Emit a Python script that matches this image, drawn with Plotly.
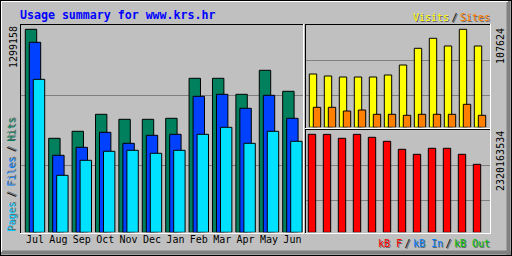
import plotly.graph_objects as go

W, H = 512, 256

months = ["Jul", "Aug", "Sep", "Oct", "Nov", "Dec", "Jan", "Feb", "Mar", "Apr", "May", "Jun"]
hits = [1299158, 601600, 646400, 755200, 723200, 723200, 729600, 985600, 985600, 883200, 1036800, 902400]
files = [1216000, 492800, 544000, 640000, 569600, 620800, 627200, 870400, 883200, 793600, 876800, 729600]
pages = [979000, 364800, 460800, 518400, 524800, 505600, 524800, 627200, 672000, 569600, 646400, 582400]
visits = [58530, 56340, 55240, 55240, 55240, 57440, 68420, 86760, 97740, 89290, 107624, 89290]
sites = [21960, 21960, 17900, 19000, 14280, 14280, 13180, 14280, 14280, 14280, 25260, 13180]
kbytes = [2320163534, 2318500000, 2225463000, 2319000000, 2249138000, 2154438000,
          1965036000, 1846660000, 1988711000, 1988711000, 1846660000, 1609909000]

title_text = "Usage summary for www.krs.hr"

C_HITS, C_FILES, C_PAGES = "#00805C", "#0040FF", "#00E0FF"
C_VISITS, C_SITES, C_KB = "#FFFF00", "#FF8000", "#FF0000"
BG = "#C0C0C0"
GRID = "#808080"
MONO = "DejaVu Sans Mono"
SHADOW = "1px 1px 0px #666666"


def px(p):
    return p / W


def py(p):
    return 1 - p / H


xi = list(range(len(months)))
hmax = max(hits)
vmax = max(visits)
kmax = max(kbytes)

# left panel: base pixel 232.3, max bar 203 px tall, top of panel 25
L_BASE, L_TOP, L_SCALE = 232.3, 25.0, 203.0
R1 = hmax * (L_BASE - L_TOP) / L_SCALE
# upper right
U_BASE, U_TOP, U_SCALE = 127.3, 25.0, 98.0
R2 = vmax * (U_BASE - U_TOP) / U_SCALE
# lower right
D_BASE, D_TOP, D_SCALE = 232.3, 130.0, 98.0
R3 = kmax * (D_BASE - D_TOP) / D_SCALE

bw_l = 11.4 / 23.4
bw_r = 7.4 / 15.0

fig = go.Figure()
line = dict(color="black", width=1)
fig.add_trace(go.Bar(x=xi, y=hits, offset=-0.415, width=bw_l, marker=dict(color=C_HITS, line=line), xaxis="x", yaxis="y"))
fig.add_trace(go.Bar(x=xi, y=files, offset=-0.244, width=bw_l, marker=dict(color=C_FILES, line=line), xaxis="x", yaxis="y"))
fig.add_trace(go.Bar(x=xi, y=pages, offset=-0.073, width=bw_l, marker=dict(color=C_PAGES, line=line), xaxis="x", yaxis="y"))
fig.add_trace(go.Bar(x=xi, y=visits, offset=-0.38, width=bw_r, marker=dict(color=C_VISITS, line=line), xaxis="x2", yaxis="y2"))
fig.add_trace(go.Bar(x=xi, y=sites, offset=-0.113, width=bw_r, marker=dict(color=C_SITES, line=line), xaxis="x2", yaxis="y2"))
fig.add_trace(go.Bar(x=xi, y=kbytes, offset=-0.447, width=bw_r, marker=dict(color=C_KB, line=line), xaxis="x3", yaxis="y3"))


def grid_vals(base, top, rng, pix):
    return [rng * (base - p) / (base - top) for p in pix]


axis_common = dict(showline=False, zeroline=False, fixedrange=True)
fig.update_layout(
    width=W, height=H, margin=dict(l=0, r=0, t=0, b=0),
    paper_bgcolor=BG, plot_bgcolor=BG, showlegend=False, barmode="overlay",
    xaxis=dict(domain=[px(21), px(304)], range=[(21 - 35) / 23.4, (304 - 35) / 23.4],
               tickvals=xi, ticktext=months, ticks="", showgrid=False,
               tickfont=dict(family=MONO, size=10, color="black"), anchor="y", **axis_common),
    yaxis=dict(domain=[py(L_BASE), py(L_TOP)], range=[0, R1], showticklabels=False, ticks="",
               tickvals=grid_vals(L_BASE, L_TOP, R1, [165, 95]), showgrid=True, gridcolor=GRID,
               gridwidth=1, anchor="x", **axis_common),
    xaxis2=dict(domain=[px(306), px(490)], range=[(306 - 315) / 15, (490 - 315) / 15],
                showticklabels=False, ticks="", showgrid=False, anchor="y2", **axis_common),
    yaxis2=dict(domain=[py(U_BASE), py(U_TOP)], range=[0, R2], showticklabels=False, ticks="",
                tickvals=grid_vals(U_BASE, U_TOP, R2, [95.3, 60]), showgrid=True, gridcolor=GRID,
                anchor="x2", **axis_common),
    xaxis3=dict(domain=[px(306), px(490)], range=[(306 - 315) / 15, (490 - 315) / 15],
                showticklabels=False, ticks="", showgrid=False, anchor="y3", **axis_common),
    yaxis3=dict(domain=[py(D_BASE), py(D_TOP)], range=[0, R3], showticklabels=False, ticks="",
                tickvals=grid_vals(D_BASE, D_TOP, R3, [200, 165]), showgrid=True, gridcolor=GRID,
                anchor="x3", **axis_common),
)

shapes = []


def hline(y, x0, x1, color, w=1):
    shapes.append(dict(type="line", xref="paper", yref="paper", x0=px(x0), x1=px(x1), y0=py(y), y1=py(y),
                       line=dict(color=color, width=w), layer="above"))


def vline(x, y0, y1, color, w=1):
    shapes.append(dict(type="line", xref="paper", yref="paper", x0=px(x), x1=px(x), y0=py(y0), y1=py(y1),
                       line=dict(color=color, width=w), layer="above"))


# outer bevel
hline(252.5, 1, 511, "#808080", 4)
vline(508.5, 1, 255, "#808080", 4)
hline(1.5, 1, 508, "white")
vline(1.5, 1, 252, "white")
hline(0.5, 0, 512, "black")
hline(255.5, 0, 512, "black")
vline(0.5, 0, 256, "black")
vline(511.5, 0, 256, "black")
# left panel frame
hline(24.5, 20, 304, "black")
vline(20.5, 24, 234, "black")
hline(233.5, 20, 304, "white")
vline(303.5, 24, 234, "white")
# upper right frame
hline(24.5, 305, 491, "black")
vline(305.5, 24, 234, "black")
hline(128.5, 305, 491, "white")
vline(490.5, 24, 129, "white")
# lower right frame
hline(129.5, 305, 491, "black")
hline(233.5, 305, 491, "white")
vline(490.5, 129, 234, "white")

annotations = []


def text(x, y, s, color, size=10, xanchor="left", yanchor="middle", angle=0, bold=False, shadow=False):
    if bold:
        s = "<b>" + s + "</b>"
    f = dict(family=MONO, size=size, color=color)
    if shadow:
        f["shadow"] = SHADOW
    annotations.append(dict(xref="paper", yref="paper", x=px(x), y=py(y), text=s, showarrow=False,
                            xanchor=xanchor, yanchor=yanchor, textangle=angle,
                            font=f, borderpad=0, borderwidth=0))


def span(t, c):
    return '<span style="color:%s">%s</span>' % (c, t)


SP = '<span style="font-size:4px"> </span>'
SPV = '<span style="font-size:7.5px"> </span>'
text(20, 15, title_text, "#0000FF", size=11.6, bold=True)
text(13, 26, str(hmax), "black", angle=-90, xanchor="center", yanchor="top")
text(500, 28, str(vmax), "black", angle=-90, xanchor="center", yanchor="top")
text(500, 131, str(kmax), "black", angle=-90, xanchor="center", yanchor="top")

sep = SP + span("/", "black") + SP
sepv = SPV + span("/", "black") + SPV
pf = span("Pages", "#00C8FF") + sepv + span("Files", "#0080FF") + sepv + span("Hits", C_HITS)
text(11, 232, pf, "black", angle=-90, xanchor="center", yanchor="bottom", shadow=True)

vs = span("Visits", C_VISITS) + sep + span("Sites", C_SITES)
text(490, 17, vs, "black", xanchor="right", shadow=True)

kb = span("kB F", C_KB) + sep + span("kB In", "#0080FF") + sep + span("kB Out", "#00C000")
text(490, 243.3, kb, "black", xanchor="right", shadow=True)

fig.update_layout(shapes=shapes, annotations=annotations)
fig.write_html("out.html")
